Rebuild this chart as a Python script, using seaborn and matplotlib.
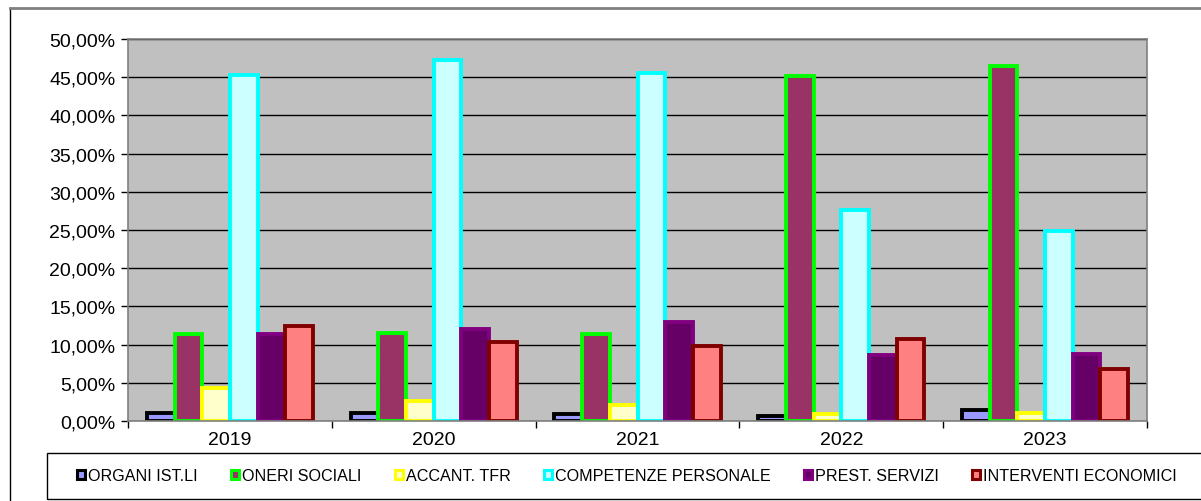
import pandas as pd
import seaborn as sns
import matplotlib.pyplot as plt
from matplotlib.patches import Patch, Rectangle
from matplotlib.lines import Line2D
from matplotlib.ticker import FuncFormatter, MultipleLocator, FixedLocator

years = ["2019", "2020", "2021", "2022", "2023"]
series = ["ORGANI IST.LI", "ONERI SOCIALI", "ACCANT. TFR",
          "COMPETENZE PERSONALE", "PREST. SERVIZI", "INTERVENTI ECONOMICI"]

organi = [1.0, 1.0, 0.9, 0.65, 1.5]
oneri = [11.35, 11.5, 11.4, 45.1, 46.5]
tfr = [4.3, 2.6, 2.05, 0.9, 1.1]
competenze = [45.3, 47.3, 45.6, 27.6, 24.9]
prest = [11.4, 12.0, 13.0, 8.6, 8.8]
interventi = [12.45, 10.4, 9.8, 10.7, 6.85]

fills = ["#9999FF", "#993366", "#FFFFCC", "#CCFFFF", "#660066", "#FF8080"]
edges = ["#000000", "#00FF00", "#FFFF00", "#00FFFF", "#800080", "#800000"]

values = [organi, oneri, tfr, competenze, prest, interventi]
rows = []
for name, vals in zip(series, values):
    for y, v in zip(years, vals):
        rows.append({"year": y, "series": name, "value": v})
df = pd.DataFrame(rows)

plt.rcParams["font.family"] = ["Liberation Sans", "DejaVu Sans"]

fig = plt.figure(figsize=(12.01, 5.02), dpi=100)
ax = fig.add_axes([128 / 1201, 1 - 422 / 502, (1147 - 128) / 1201, (422 - 40) / 502])

sns.barplot(data=df, x="year", y="value", hue="series", hue_order=series,
            palette=fills, saturation=1, width=0.815, ax=ax, legend=False)

for cont, ec in zip(ax.containers, edges):
    for bar in cont:
        bar.set_edgecolor(ec)
        bar.set_linewidth(2.8)

ax.set_facecolor("#C0C0C0")
ax.set_xlim(-0.5, 4.5)
ax.set_ylim(0, 50)
ax.yaxis.set_major_locator(MultipleLocator(5))
ax.yaxis.set_major_formatter(FuncFormatter(lambda v, p: f"{v:.2f}%".replace(".", ",")))
ax.set_axisbelow(True)
ax.grid(axis="y", color="black", linewidth=1)
ax.grid(axis="x", visible=False)
ax.set_xlabel("")
ax.set_ylabel("")

ax.tick_params(axis="y", length=5, width=1, colors="black", labelsize=14, pad=4)
ax.tick_params(axis="x", which="major", length=0, labelsize=14, pad=7)
ax.xaxis.set_minor_locator(FixedLocator([-0.5, 0.5, 1.5, 2.5, 3.5, 4.5]))
ax.tick_params(axis="x", which="minor", length=5, width=1, color="black")
for s in ax.spines.values():
    s.set_color("#808080")
    s.set_linewidth(1.2)

# outer chart border
fig.add_artist(Line2D([10 / 1201, 10 / 1201], [0, 1 - 9 / 502], color="black", lw=1))
fig.add_artist(Line2D([10 / 1201, 1], [1 - 9 / 502, 1 - 9 / 502], color="#808080", lw=2))

# legend box
fig.add_artist(Rectangle((47 / 1201, 1 - 500 / 502), 1.0, 46 / 502,
                         transform=fig.transFigure, fill=False,
                         edgecolor="black", lw=1))
handles = [Patch(facecolor=f, edgecolor=e, linewidth=2.2) for f, e in zip(fills, edges)]
fig.legend(handles, series, ncol=6, loc="center",
           bbox_to_anchor=(627 / 1201, 1 - 477 / 502), frameon=False,
           fontsize=11.6, handlelength=0.5, handleheight=0.5,
           handletextpad=0.15, columnspacing=2.1)

fig.savefig("out.png", dpi=100)
